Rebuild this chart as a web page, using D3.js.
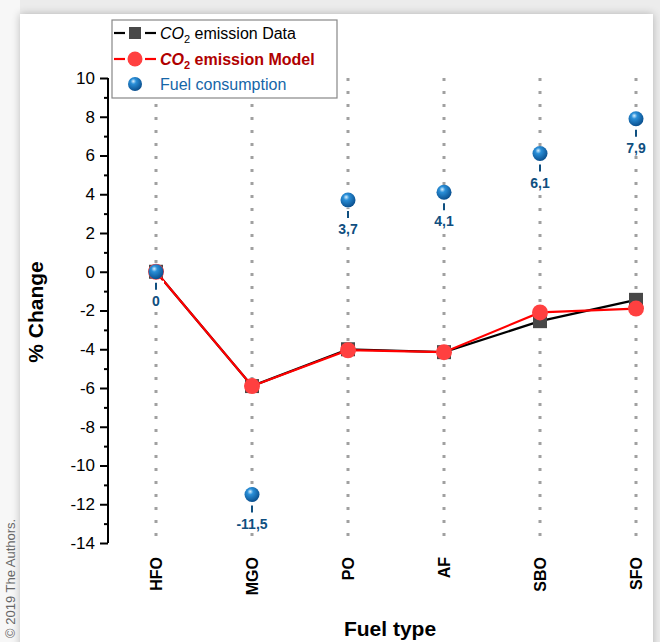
<!DOCTYPE html>
<html lang="en">
<head>
<meta charset="utf-8" />
<title>CO2 emission vs fuel type</title>
<style>
html,body{margin:0;height:100%;background:#ececec;font-family:"Liberation Sans",Arial,sans-serif}
svg{display:block}
</style>
<script src="https://cdn.jsdelivr.net/npm/d3@7/dist/d3.min.js"></script>
</head>
<body>
<div id="chart"></div>
<script>
/* ----------------------------- data ---------------------------------- */
const fuels       = ["HFO", "MGO", "PO", "AF", "SBO", "SFO"];
const co2Data     = [0, -5.9, -4.0, -4.15, -2.55, -1.45];
const co2Model    = [0, -5.9, -4.05, -4.15, -2.1, -1.9];
const fuelUse     = [0, -11.5, 3.7, 4.1, 6.1, 7.9];
const fuelLabels  = ["0", "-11,5", "3,7", "4,1", "6,1", "7,9"];
const yTicks      = [10, 8, 6, 4, 2, 0, -2, -4, -6, -8, -10, -12, -14];

/* ----------------------------- setup --------------------------------- */
const width = 660, height = 642;
const svg = d3.select("#chart").append("svg")
  .attr("width", width).attr("height", height);

const defs = svg.append("defs");
const shadow = defs.append("filter").attr("id", "shadow")
  .attr("x", "-5%").attr("y", "-5%").attr("width", "110%").attr("height", "110%");
shadow.append("feGaussianBlur").attr("in", "SourceAlpha").attr("stdDeviation", 4);
shadow.append("feComponentTransfer").append("feFuncA").attr("type", "linear").attr("slope", 0.25);
const fm = shadow.append("feMerge");
fm.append("feMergeNode");
fm.append("feMergeNode").attr("in", "SourceGraphic");

const grad = defs.append("radialGradient").attr("id", "sphere")
  .attr("cx", "40%").attr("cy", "35%").attr("r", "65%").attr("fx", "38%").attr("fy", "30%");
grad.append("stop").attr("offset", "0%").attr("stop-color", "#d8f0ff");
grad.append("stop").attr("offset", "30%").attr("stop-color", "#2a8fd8");
grad.append("stop").attr("offset", "100%").attr("stop-color", "#0a4f8e");

// page card
svg.append("rect").attr("x", 0).attr("y", 0).attr("width", 20).attr("height", height).attr("fill", "#f7f7f7");
svg.append("rect").attr("x", 20).attr("y", 14).attr("width", 633).attr("height", height)
  .attr("fill", "#fff").attr("filter", "url(#shadow)");
svg.append("text").attr("transform", "translate(15,638) rotate(-90)")
  .attr("font-size", 13).attr("fill", "#666").text("© 2019 The Authors.");

const x = d3.scalePoint().domain(fuels).range([108, 684]).padding(0.5);
const y = d3.scaleLinear().domain([-14, 10]).range([543, 78]);

/* ----------------------------- grid ---------------------------------- */
svg.append("g").selectAll("line").data(fuels).join("line")
  .attr("x1", d => x(d)).attr("x2", d => x(d))
  .attr("y1", y(10)).attr("y2", y(-14))
  .attr("stroke", "#a0a0a0").attr("stroke-width", 3)
  .attr("stroke-dasharray", "3,10");

/* ----------------------------- axes ---------------------------------- */
const yAxis = svg.append("g").attr("transform", "translate(108,0)")
  .call(d3.axisLeft(y).tickValues(yTicks).tickSize(8).tickPadding(5).tickFormat(d => String(d)));
yAxis.select(".domain").attr("stroke-width", 2).attr("d", `M0,${y(10)}V${y(-14)}`);
yAxis.selectAll(".tick line").attr("stroke-width", 2);
yAxis.selectAll(".tick text").attr("font-size", 17).attr("fill", "#000")
  .attr("font-family", "Liberation Sans, Arial, sans-serif");
svg.append("g").attr("transform", "translate(108,0)")
  .call(d3.axisLeft(y).tickValues(d3.range(-13, 10, 2)).tickSize(4).tickFormat(""))
  .call(g => g.select(".domain").remove())
  .selectAll(".tick line").attr("stroke-width", 2);

svg.append("g").selectAll("text").data(fuels).join("text")
  .attr("transform", d => `translate(${x(d) + 6},557) rotate(-90)`)
  .attr("text-anchor", "end").attr("font-weight", "bold").attr("font-size", 16)
  .text(d => d);

svg.append("text").attr("x", 390).attr("y", 636).attr("text-anchor", "middle")
  .attr("font-weight", "bold").attr("font-size", 21).text("Fuel type");
svg.append("text").attr("transform", "translate(43,312) rotate(-90)").attr("text-anchor", "middle")
  .attr("font-weight", "bold").attr("font-size", 21).text("% Change");

/* ----------------------------- series -------------------------------- */
const line = d3.line().x((d, i) => x(fuels[i])).y(d => y(d));

svg.append("path").datum(co2Data).attr("d", line)
  .attr("fill", "none").attr("stroke", "#000").attr("stroke-width", 2.2);
svg.append("g").selectAll("rect").data(co2Data).join("rect")
  .attr("x", (d, i) => x(fuels[i]) - 7).attr("y", d => y(d) - 7)
  .attr("width", 14).attr("height", 14).attr("fill", "#484848");

svg.append("path").datum(co2Model).attr("d", line)
  .attr("fill", "none").attr("stroke", "#ff0000").attr("stroke-width", 2.2);
svg.append("g").selectAll("circle").data(co2Model).join("circle")
  .attr("cx", (d, i) => x(fuels[i])).attr("cy", d => y(d)).attr("r", 8)
  .attr("fill", "#ff4040");

const fuelG = svg.append("g").selectAll("g").data(fuelUse).join("g")
  .attr("transform", (d, i) => `translate(${x(fuels[i])},${y(d)})`);
fuelG.append("rect").attr("x", -8).attr("y", 9).attr("width", 16).attr("height", 11).attr("fill", "#fff");
fuelG.append("rect").attr("x", d => d < 0 ? -20 : -14).attr("y", 21)
  .attr("width", d => d < 0 ? 40 : 28).attr("height", 16).attr("fill", "#fff");
fuelG.append("circle").attr("r", 7.5).attr("fill", "url(#sphere)");
fuelG.append("line").attr("y1", 11).attr("y2", 18)
  .attr("stroke", "#0f4f80").attr("stroke-width", 2);
fuelG.append("text").attr("y", 34).attr("text-anchor", "middle")
  .attr("font-weight", "bold").attr("font-size", 14).attr("fill", "#0f4f80")
  .text((d, i) => fuelLabels[i]);

/* ----------------------------- legend -------------------------------- */
const lg = svg.append("g");
lg.append("rect").attr("x", 112).attr("y", 20).attr("width", 225).attr("height", 78)
  .attr("fill", "#fff").attr("stroke", "#888").attr("stroke-width", 1.2);

const row = [33, 59, 84];
const seg = (yy, color) => {
  lg.append("line").attr("x1", 114).attr("x2", 125).attr("y1", yy).attr("y2", yy)
    .attr("stroke", color).attr("stroke-width", 2.2);
  lg.append("line").attr("x1", 145).attr("x2", 156).attr("y1", yy).attr("y2", yy)
    .attr("stroke", color).attr("stroke-width", 2.2);
};
seg(row[0], "#000");
lg.append("rect").attr("x", 129).attr("y", row[0] - 6).attr("width", 12).attr("height", 12).attr("fill", "#484848");
seg(row[1], "#ff0000");
lg.append("circle").attr("cx", 135).attr("cy", row[1]).attr("r", 7.5).attr("fill", "#ff4040");
lg.append("circle").attr("cx", 135).attr("cy", row[2]).attr("r", 7).attr("fill", "url(#sphere)");

const t1 = lg.append("text").attr("x", 160).attr("y", row[0] + 6).attr("font-size", 16).attr("fill", "#000");
t1.append("tspan").attr("font-style", "italic").text("CO");
t1.append("tspan").attr("font-size", 11).attr("dy", 4).text("2");
t1.append("tspan").attr("dy", -4).text(" emission Data");

const t2 = lg.append("text").attr("x", 160).attr("y", row[1] + 6).attr("font-size", 16)
  .attr("font-weight", "bold").attr("fill", "#b00000");
t2.append("tspan").attr("font-style", "italic").text("CO");
t2.append("tspan").attr("font-size", 11).attr("dy", 4).text("2");
t2.append("tspan").attr("dy", -4).text(" emission Model");

lg.append("text").attr("x", 160).attr("y", row[2] + 6).attr("font-size", 16)
  .attr("fill", "#1566a8").text("Fuel consumption");
</script>
</body>
</html>
